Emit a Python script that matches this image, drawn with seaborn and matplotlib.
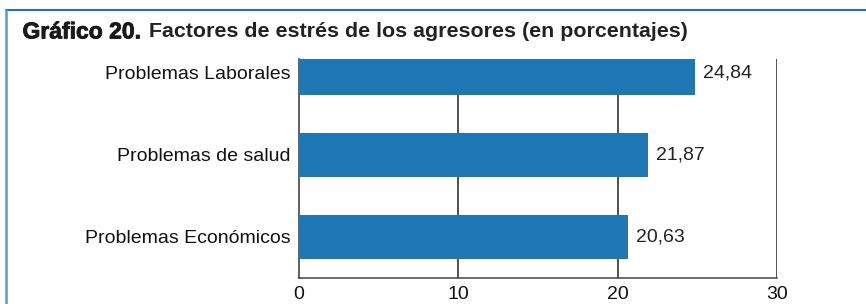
import numpy as np
import pandas as pd
import matplotlib
matplotlib.use('Agg')
import matplotlib.pyplot as plt
import matplotlib.patheffects as pe
from matplotlib.lines import Line2D
import seaborn as sns

# data
categorias = ['Problemas Laborales', 'Problemas de salud', 'Problemas Económicos']
porcentajes = [24.84, 21.87, 20.63]
x_ticks = [0, 10, 20, 30]

df = pd.DataFrame({'categoria': categorias, 'porcentaje': porcentajes})

sns.set_style('white')
plt.rcParams['font.family'] = ['Liberation Sans', 'DejaVu Sans']
plt.rcParams['text.color'] = '#222222'

fig = plt.figure(figsize=(8.66, 3.04), dpi=100)
ax = fig.add_axes([0.3447, 0.0855, 0.5531, 0.7204])

sns.barplot(data=df, x='porcentaje', y='categoria', orient='h',
            color='#1f77b4', saturation=1, width=0.53, linewidth=0,
            ax=ax, zorder=3)

ax.set_xlim(0, 30)
ax.set_ylim(2.5, -0.17)
ax.set_xticks(x_ticks)
ax.set_xticklabels([str(t) for t in x_ticks])
ax.set_xlabel('')
ax.set_ylabel('')

# vertical grid lines
for t in x_ticks[1:]:
    ax.axvline(t, color='#222222', lw=1.1, zorder=1)

for side in ['top', 'right']:
    ax.spines[side].set_visible(False)
ax.spines['left'].set_color('#555555')
ax.spines['left'].set_linewidth(1.3)
ax.spines['bottom'].set_color('#444444')
ax.spines['bottom'].set_linewidth(1.1)

ax.tick_params(axis='x', length=0, pad=6, labelsize=14, labelcolor='#111111')
ax.tick_params(axis='y', length=0, pad=6, labelsize=14, labelcolor='#111111')

# value labels
for i, v in enumerate(porcentajes):
    ax.annotate(f'{v:.2f}'.replace('.', ','), xy=(v, i), xytext=(6, 0),
                textcoords='offset points', va='center', ha='left',
                fontsize=14, color='#222222')

# title ("Gráfico 20." heavier)
t1 = fig.text(0.026, 0.895, 'Gráfico 20.', fontsize=16.5, fontweight='bold',
              va='center', ha='left', color='#1a1a1a',
              path_effects=[pe.withStroke(linewidth=0.6, foreground='#1a1a1a')])
fig.canvas.draw()
bb = t1.get_window_extent()
x2 = (bb.x1 + 8) / fig.bbox.width
fig.text(x2, 0.895, 'Factores de estrés de los agresores (en porcentajes)',
         fontsize=15.4, fontweight='bold', va='center', ha='left', color='#222222')

# frame lines
fig.add_artist(Line2D([0.007, 1.0], [0.966, 0.966], color='#1f6fc0', lw=1.5))
fig.add_artist(Line2D([0.007, 0.007], [0.0, 0.966], color='#5a9bd3', lw=1.8))

fig.savefig('out.png', dpi=100)
